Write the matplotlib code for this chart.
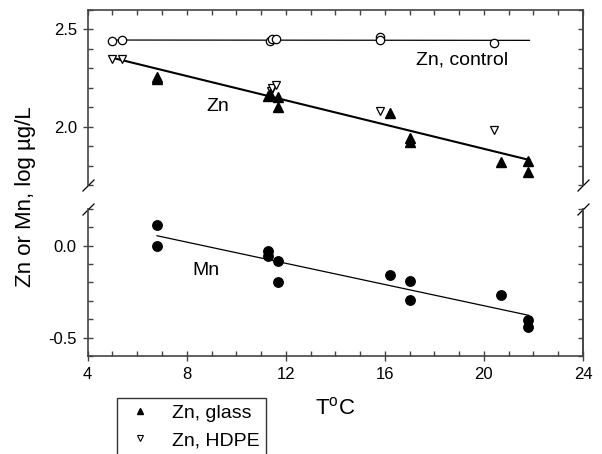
import numpy as np
import matplotlib
matplotlib.use('Agg')
import matplotlib.pyplot as plt
from matplotlib.lines import Line2D

plt.rcParams['font.family'] = ['Liberation Sans', 'DejaVu Sans']
plt.rcParams['mathtext.default'] = 'regular'

# Zn, control (open circles)
temp_ctrl = [5.0, 5.4, 11.35, 11.45, 11.6, 15.8, 15.8, 20.4]
zn_ctrl = [2.442, 2.445, 2.442, 2.452, 2.449, 2.463, 2.445, 2.43]

# Zn, glass (filled up triangles)
temp_glass = [6.8, 6.8, 11.3, 11.35, 11.7, 11.7, 16.2, 17.0, 17.0, 20.7, 21.8, 21.8]
zn_glass = [2.255, 2.245, 2.157, 2.17, 2.154, 2.102, 2.072, 1.94, 1.923, 1.82, 1.825, 1.765]

# Zn, HDPE (open down triangles)
temp_hdpe = [5.0, 5.4, 11.4, 11.45, 11.6, 15.8, 20.4]
zn_hdpe = [2.347, 2.346, 2.185, 2.197, 2.214, 2.08, 1.983]

# Mn (filled circles)
temp_mn = [6.8, 6.8, 11.3, 11.3, 11.7, 11.7, 16.2, 17.0, 17.0, 20.7, 21.8, 21.8]
mn = [0.114, 0.0, -0.031, -0.054, -0.085, -0.199, -0.161, -0.194, -0.293, -0.266, -0.406, -0.444]

# regression lines: slope, intercept, x range
fit_ctrl = [-0.0001, 2.446, 5.0, 21.84]
fit_zn = [-0.0312, 2.510, 5.0, 21.84]
fit_mn = [-0.02885, 0.2505, 6.8, 21.8]

AX_COL = '#444444'

fig = plt.figure(figsize=(6.02, 4.54), dpi=100)
ax_top = fig.add_axes([0.1457, 0.5925, 0.8227, 0.3855])
ax_bot = fig.add_axes([0.1457, 0.2159, 0.8227, 0.3238])


def fit_line(ax, fit, lw):
    x = np.array(fit[2:])
    ax.plot(x, fit[0] * x + fit[1], color='black', lw=lw, zorder=2)


# upper panel: Zn
ax_top.plot(temp_ctrl, zn_ctrl, 'o', ms=6.0, mfc='white', mec='black', mew=0.9, zorder=3)
ax_top.plot(temp_hdpe, zn_hdpe, 'v', ms=6.0, mfc='white', mec='black', mew=0.9, zorder=3)
ax_top.plot(temp_glass, zn_glass, '^', ms=6.5, color='black', zorder=4)
fit_line(ax_top, fit_ctrl, 0.9)
fit_line(ax_top, fit_zn, 1.5)
ax_top.text(19.1, 2.342, 'Zn, control', fontsize=14, ha='center', va='center')
ax_top.text(9.24, 2.102, 'Zn', fontsize=14, ha='center', va='center')

# lower panel: Mn
ax_bot.plot(temp_mn, mn, 'o', ms=6.8, color='black', zorder=3)
fit_line(ax_bot, fit_mn, 0.9)
ax_bot.text(8.79, -0.134, 'Mn', fontsize=14, ha='center', va='center')

ax_top.set_ylim(1.7, 2.6)
ax_bot.set_ylim(-0.6, 0.2)
for ax in (ax_top, ax_bot):
    ax.set_xlim(4, 24)
    for s in ax.spines.values():
        s.set_color(AX_COL)
        s.set_linewidth(1.2)
    ax.set_xticks(np.arange(4, 25, 4))
    ax.set_xticks(np.arange(4, 25, 1), minor=True)
    ax.tick_params(axis='y', which='major', direction='inout', length=7.7, width=1.0,
                   color=AX_COL, labelsize=12, right=False, pad=4)
    ax.tick_params(axis='y', which='minor', direction='in', length=3.5, width=1.0,
                   color=AX_COL, right=False)
    # right hand ticks, pointing in
    sec = ax.secondary_yaxis('right')
    sec.set_yticks(np.arange(-0.6, 2.61, 0.1))
    sec.tick_params(direction='in', length=3.5, width=1.0, color=AX_COL, labelright=False)
    sec.spines['right'].set_color(AX_COL)
    sec.spines['right'].set_linewidth(1.2)

ax_top.set_yticks([2.0, 2.5])
ax_top.set_yticklabels(['2.0', '2.5'])
ax_top.set_yticks(np.arange(1.7, 2.61, 0.1), minor=True)
ax_bot.set_yticks([-0.5, 0.0])
ax_bot.set_yticklabels(['-0.5', '0.0'])
ax_bot.set_yticks(np.arange(-0.6, 0.21, 0.1), minor=True)

ax_top.spines['bottom'].set_visible(False)
ax_top.tick_params(axis='x', which='both', bottom=False, labelbottom=False, top=True,
                   direction='in', length=3.5, width=1.0, color=AX_COL)
ax_bot.spines['top'].set_visible(False)
ax_bot.tick_params(axis='x', which='major', direction='inout', length=7.7, width=1.0,
                   color=AX_COL, labelsize=12, top=False, pad=4)
ax_bot.tick_params(axis='x', which='minor', direction='in', length=3.5, width=1.0,
                   color=AX_COL, top=False)

# axis break marks
kw = dict(marker=[(-1, -1), (1, 1)], markersize=8.6, linestyle='none', color='black',
          mec='black', mew=0.9, clip_on=False)
ax_top.plot([0, 1], [0, 0], transform=ax_top.transAxes, **kw)
ax_bot.plot([0, 1], [1, 1], transform=ax_bot.transAxes, **kw)

ax_bot.set_xlabel('T$^o$C', fontsize=16, labelpad=11)
fig.text(0.042, 0.566, 'Zn or Mn, log \u00b5g/L', rotation=90, fontsize=16,
         ha='center', va='center')

handles = [Line2D([], [], marker='^', ls='none', color='black', ms=5),
           Line2D([], [], marker='v', ls='none', mfc='white', mec='black', ms=5, mew=0.8)]
leg = fig.legend(handles, ['Zn, glass', 'Zn, HDPE'], loc='upper left',
                 bbox_to_anchor=(0.1939, 0.1227), borderaxespad=0, fontsize=14,
                 frameon=True, fancybox=False, borderpad=0.3, handlelength=1.8,
                 handletextpad=0.75, labelspacing=0.5)
leg.get_frame().set_edgecolor('black')
leg.get_frame().set_linewidth(1.0)

fig.savefig('out.png', dpi=100)
